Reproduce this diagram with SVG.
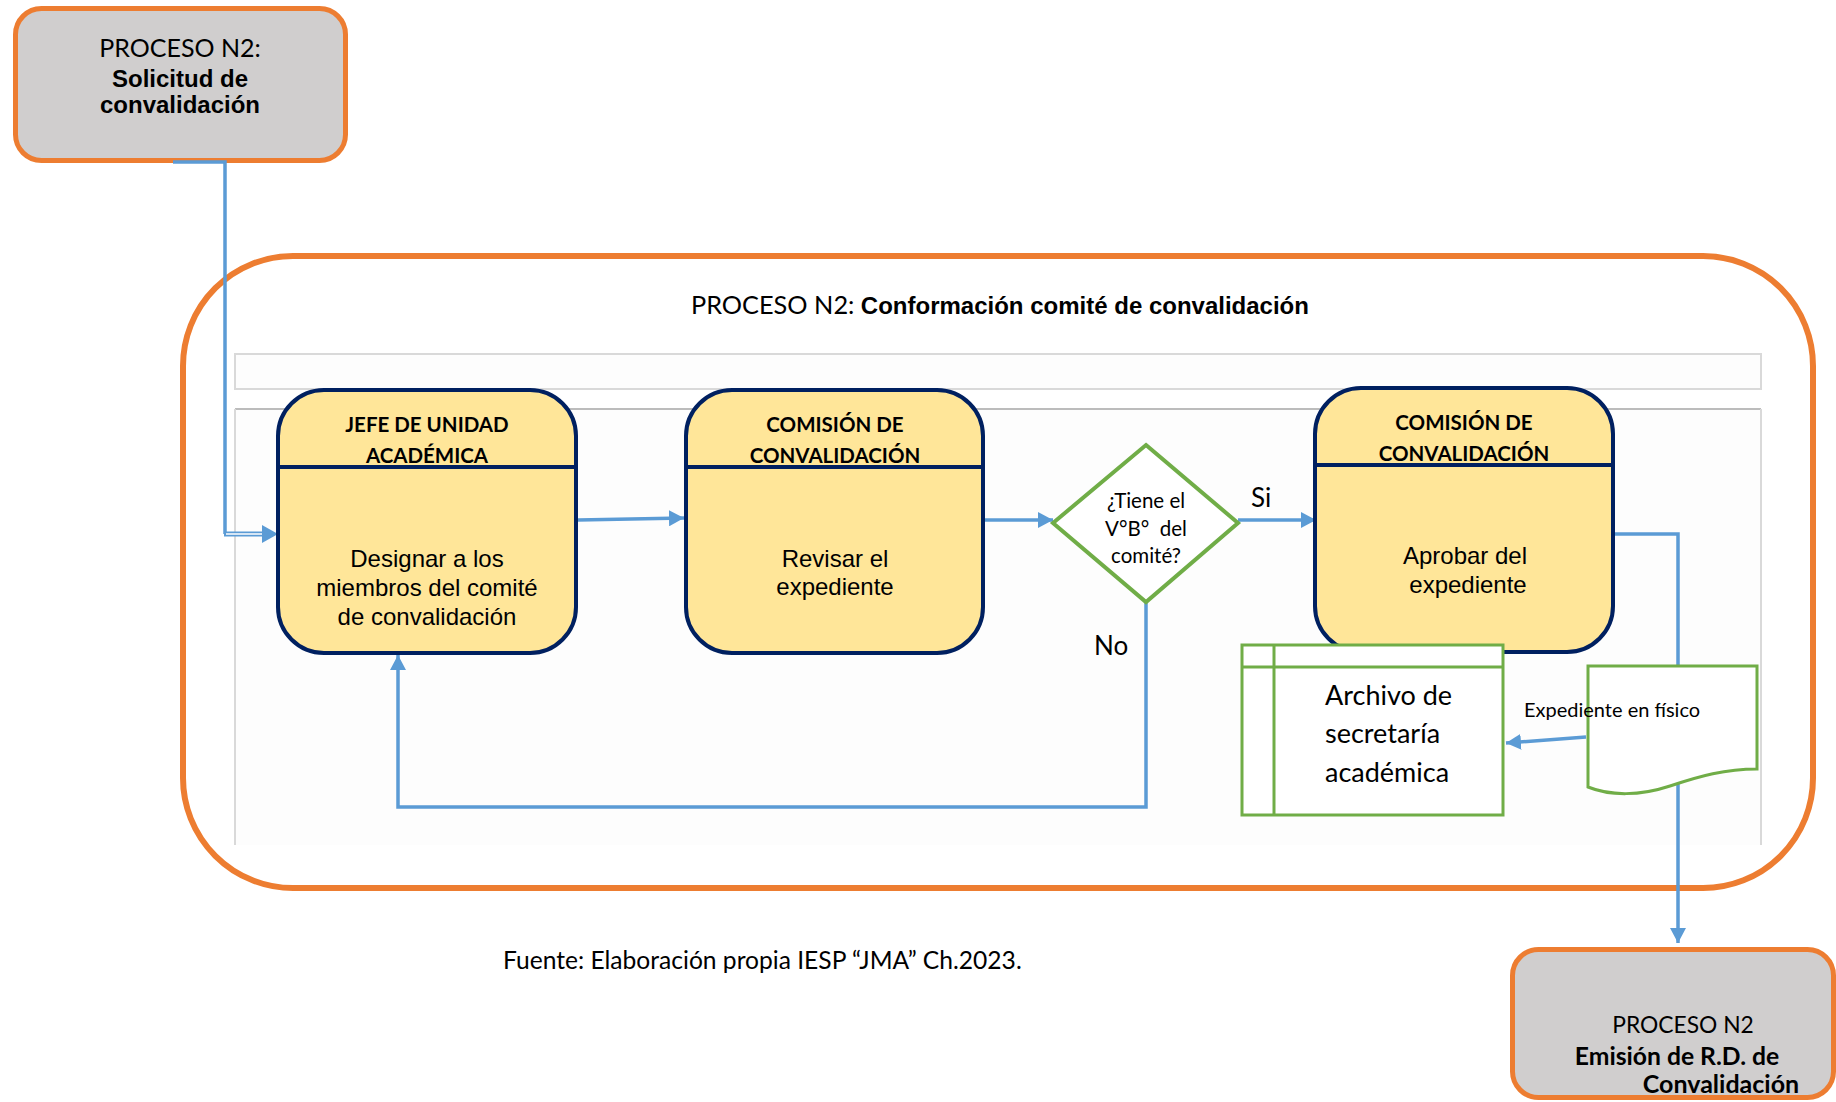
<svg xmlns="http://www.w3.org/2000/svg" width="1836" height="1102" viewBox="0 0 1836 1102">
  <style>
    .cal { font-family: Lato, "Noto Sans", sans-serif; fill: #000; }
    .calb { font-family: Lato, "Noto Sans", sans-serif; font-weight: bold; fill: #000; }
    .ari { font-family: "Liberation Sans", Arial, sans-serif; fill: #000; }
    .arib { font-family: "Liberation Sans", Arial, sans-serif; font-weight: bold; fill: #000; }
    .proc { fill: #D0CECE; stroke: #ED7D31; stroke-width: 5; }
    .task { fill: #FFE699; stroke: #002060; stroke-width: 4; }
    .div { stroke: #002060; stroke-width: 4; }
    .green { fill: #FFFFFF; stroke: #70AD47; stroke-width: 3; }
    .flow { fill: none; stroke: #5B9BD5; stroke-width: 3.5; }
    .lane { fill: #FDFDFD; }
    .laneEdge { stroke: #D9D9D9; stroke-width: 2; fill: none; }
  </style>
  <defs>
    <marker id="arrow" markerUnits="userSpaceOnUse" markerWidth="16" markerHeight="16" refX="15" refY="8" orient="auto">
      <path d="M0,0 L15,8 L0,16 Z" fill="#5B9BD5"/>
    </marker>
  </defs>

  <rect width="1836" height="1102" fill="#FFFFFF"/>

  <!-- outer process frame -->
  <g id="frame">
    <rect x="183" y="256" width="1630" height="632" rx="110" ry="110" fill="#FFFFFF" stroke="#ED7D31" stroke-width="6"/>
    <text x="691" y="314" font-size="25.3" class="cal">PROCESO N2: <tspan class="arib" font-size="24">Conformación comité de convalidación</tspan></text>
  </g>

  <!-- swimlane bands -->
  <g id="lanes">
    <rect class="lane" x="235" y="354" width="1526" height="35"/>
    <rect class="laneEdge" x="235" y="354" width="1526" height="35"/>
    <rect class="lane" x="235" y="409" width="1526" height="436"/>
    <line x1="235" y1="409" x2="1761" y2="409" stroke="#A6A6A6" stroke-width="1.5"/>
    <line class="laneEdge" x1="235" y1="409" x2="235" y2="845"/>
    <line class="laneEdge" x1="1761" y1="409" x2="1761" y2="845"/>
  </g>

  <g id="inicio">
    <rect class="proc" x="15.5" y="8.5" width="330" height="152" rx="26" ry="26"/>
    <text x="180" y="57" font-size="25" text-anchor="middle" class="cal">PROCESO N2:</text>
    <text x="180" y="87" font-size="24" text-anchor="middle" class="arib">Solicitud de</text>
    <text x="180" y="113" font-size="24" text-anchor="middle" class="arib">convalidación</text>
  </g>

  <g id="connectors">
    <!-- entry from Solicitud de convalidación -->
    <path class="flow" d="M173,162 H225 V534"/>
    <path d="M224,534 H263" stroke="#5B9BD5" stroke-width="5" fill="none"/>
    <path d="M226,534 H263" stroke="#FFFFFF" stroke-width="1.5" fill="none"/>
    <path d="M262,525 L278,534 L262,543 Z" fill="#5B9BD5"/>
    <!-- task to task -->
    <path class="flow" d="M578,520 L684,518" marker-end="url(#arrow)"/>
    <path class="flow" d="M985,520 H1053" marker-end="url(#arrow)"/>
    <!-- decision: yes -->
    <path class="flow" d="M1238,520 H1316" marker-end="url(#arrow)"/>
    <!-- decision: no, back to first task -->
    <path class="flow" d="M1146,602 V807 H398 V655" marker-end="url(#arrow)"/>
    <!-- approval to next process -->
    <path class="flow" d="M1614,534 H1678 V943" marker-end="url(#arrow)"/>
    <!-- physical file to archive -->
    <path class="flow" d="M1586,737 L1506,743" marker-end="url(#arrow)"/>
  </g>

  <g id="designar">
    <rect class="task" x="278" y="390" width="298" height="263" rx="46" ry="46"/>
    <line class="div" x1="278" y1="467" x2="576" y2="467"/>
    <text x="427" y="432" font-size="20.5" text-anchor="middle" class="calb">JEFE DE UNIDAD</text>
    <text x="427" y="463" font-size="20.5" text-anchor="middle" class="calb">ACADÉMICA</text>
    <text x="427" y="567" font-size="24" text-anchor="middle" class="ari">Designar a los</text>
    <text x="427" y="596" font-size="24" text-anchor="middle" class="ari">miembros del comité</text>
    <text x="427" y="625" font-size="24" text-anchor="middle" class="ari">de convalidación</text>
  </g>

  <g id="revisar">
    <rect class="task" x="686" y="390" width="297" height="263" rx="46" ry="46"/>
    <line class="div" x1="686" y1="467" x2="983" y2="467"/>
    <text x="835" y="432" font-size="20.5" text-anchor="middle" class="calb">COMISIÓN DE</text>
    <text x="835" y="463" font-size="20.5" text-anchor="middle" class="calb">CONVALIDACIÓN</text>
    <text x="835" y="567" font-size="24" text-anchor="middle" class="ari">Revisar el</text>
    <text x="835" y="595" font-size="24" text-anchor="middle" class="ari">expediente</text>
  </g>

  <g id="decision">
    <path d="M1146,445 L1238,523 L1146,602 L1053,523 Z" fill="#FFFFFF" stroke="#70AD47" stroke-width="4"/>
    <text x="1146" y="508" font-size="20.5" text-anchor="middle" class="cal">¿Tiene el</text>
    <text x="1146" y="536" font-size="20.5" text-anchor="middle" class="cal" xml:space="preserve">V°B°  del</text>
    <text x="1146" y="563" font-size="20.5" text-anchor="middle" class="cal">comité?</text>
    <text x="1251" y="507" font-size="26" class="cal">Si</text>
    <text x="1094" y="655" font-size="26" class="cal">No</text>
  </g>

  <g id="aprobar">
    <rect class="task" x="1315" y="388" width="298" height="264" rx="46" ry="46"/>
    <line class="div" x1="1315" y1="465" x2="1613" y2="465"/>
    <text x="1464" y="430" font-size="20.5" text-anchor="middle" class="calb">COMISIÓN DE</text>
    <text x="1464" y="461" font-size="20.5" text-anchor="middle" class="calb">CONVALIDACIÓN</text>
    <text x="1465" y="564" font-size="24" text-anchor="middle" class="ari">Aprobar del</text>
    <text x="1468" y="593" font-size="24" text-anchor="middle" class="ari">expediente</text>
  </g>

  <g id="archivo">
    <rect class="green" x="1242" y="645" width="261" height="170"/>
    <line x1="1274" y1="645" x2="1274" y2="815" stroke="#70AD47" stroke-width="3"/>
    <line x1="1242" y1="667" x2="1503" y2="667" stroke="#70AD47" stroke-width="3"/>
    <text x="1325" y="705" font-size="27" class="cal">Archivo de</text>
    <text x="1325" y="743" font-size="27" class="cal">secretaría</text>
    <text x="1325" y="782" font-size="27" class="cal">académica</text>
  </g>

  <g id="expediente">
    <path class="green" d="M1588,666 H1757 V769 C1725,769 1700,776 1670,786 C1640,796 1610,796 1588,787 Z"/>
    <text x="1524" y="717" font-size="20" class="cal">Expediente en físico</text>
  </g>

  <g id="emision">
    <rect class="proc" x="1512.5" y="949.5" width="321" height="148" rx="26" ry="26"/>
    <text x="1683" y="1033" font-size="22.8" text-anchor="middle" class="cal">PROCESO N2</text>
    <text x="1677" y="1065" font-size="24.7" text-anchor="middle" class="calb">Emisión de R.D. de</text>
    <text x="1721" y="1093" font-size="25" text-anchor="middle" class="calb">Convalidación</text>
  </g>

  <g id="fuente">
    <text x="503" y="969" font-size="24.6" class="cal">Fuente: Elaboración propia IESP “JMA” Ch.2023.</text>
  </g>
</svg>
